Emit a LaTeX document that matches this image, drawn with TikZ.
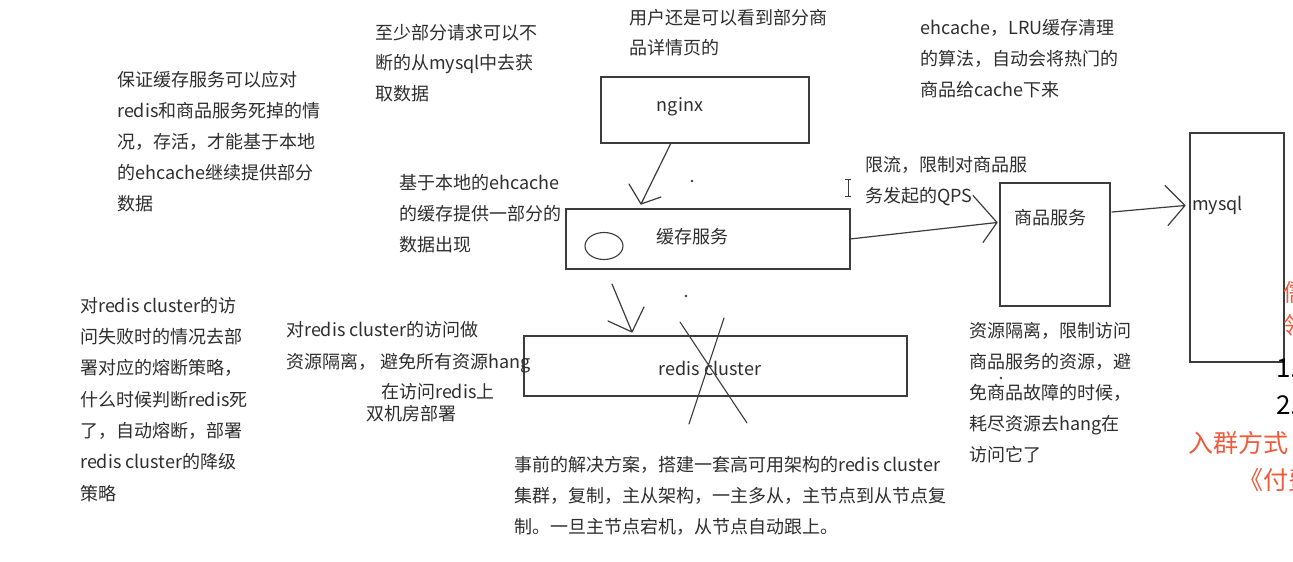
\documentclass[tikz,border=0pt]{standalone}
\usepackage{fontspec}
\setmainfont{Noto Sans CJK SC}
\usetikzlibrary{calc,shapes.geometric}
\definecolor{tx}{HTML}{2E2E2E}
\definecolor{ln}{HTML}{3C3C3C}
\definecolor{rd}{HTML}{EE5A3C}
\begin{document}
\begin{tikzpicture}[x=1pt,y=-1pt,
  box/.style={draw=ln,line width=1.3pt,inner sep=0pt,outer sep=0pt},
  note/.style={anchor=north west,inner sep=0pt,align=left,text=tx,font=\fontsize{18}{31}\selectfont},
  lbl/.style={inner sep=0pt,text=tx,font=\fontsize{18}{20}\selectfont},
  wire/.style={draw=ln,line width=1.2pt,line cap=round},
  redt/.style={anchor=west,inner sep=0pt,text=rd,font=\fontsize{24}{26}\selectfont},
  numt/.style={anchor=west,inner sep=0pt,text=black,font=\fontsize{26}{28}\selectfont}]
\useasboundingbox (0,0) rectangle (1293,562);
\clip (0,0) rectangle (1293,562);
\fill[white] (0,0) rectangle (1293,562);

% boxes
\node[box,minimum width=208pt,minimum height=66pt] (nginx) at (705,110) {};
\node[box,minimum width=284pt,minimum height=60pt] (cache) at (708,239) {};
\node[box,minimum width=383pt,minimum height=60pt] (redis) at (715.5,366) {};
\node[box,minimum width=110pt,minimum height=123pt] (goods) at (1055,244.5) {};
\node[box,minimum width=94pt,minimum height=229pt] (mysql) at (1237,247.5) {};
\node[draw=ln,line width=1.1pt,ellipse,minimum width=38pt,minimum height=27pt,inner sep=0pt] (ehc) at (604,246) {};

% box labels
\node[lbl] (tnginx) at (680,107) {nginx};
\node[lbl] (tcache) at (692,237) {缓存服务};
\node[lbl] (tredis) at (710,368) {redis cluster};
\node[lbl] (tgoods) at (1050,218) {商品服务};
\node[lbl,anchor=west] (tmysql) at (1192,205) {mysql};

% arrows
\coordinate (a1s) at ($(nginx.south west)+(70,0)$);
\coordinate (a1t) at ($(cache.north west)+(75,-5)$);
\draw[wire] (a1s) -- (a1t) (a1t) -- ++(-12,-20) (a1t) -- ++(20,-7);

\coordinate (a2s) at ($(cache.south west)+(46,15)$);
\coordinate (a2t) at ($(redis.north west)+(108,-4)$);
\draw[wire] (a2s) -- (a2t) (a2t) -- ++(-24,-11) (a2t) -- ++(12,-25);

\coordinate (a3t) at ($(goods.west)+(-3,-22)$);
\draw[wire] (cache.east) -- (a3t) (a3t) -- ++(-24,-27) (a3t) -- ++(-14,20);

\coordinate (a4s) at ($(goods.north east)+(2,29)$);
\coordinate (a4t) at ($(mysql.west)+(-5,-42)$);
\draw[wire] (a4s) -- (a4t) (a4t) -- ++(-20,-20) (a4t) -- ++(-17,20);

% cross over redis
\coordinate (x1a) at (680,322); \coordinate (x1b) at (747,423);
\coordinate (x2a) at (724,318); \coordinate (x2b) at (689,424);
\draw[wire,line width=1.1pt] (x1a) -- (x1b) (x2a) -- (x2b);

% cursor and dots
\draw[ln,line width=0.9pt] (848,179) -- (848,196) (845,179) -- (851,179) (845,196) -- (851,196);
\fill[ln] (692,181) circle (1.3) (686,296) circle (1.3) (1001,378) circle (1.3);

% notes
\node[note] (nA) at (117,71) {保证缓存服务可以应对\\redis和商品服务死掉的情\\况，存活，才能基于本地\\的ehcache继续提供部分\\数据};
\node[note,font=\fontsize{18}{30.5}\selectfont] (nB) at (375,24) {至少部分请求可以不\\断的从mysql中去获\\取数据};
\node[note,font=\fontsize{18}{30}\selectfont] (nC) at (629,9) {用户还是可以看到部分商\\品详情页的};
\node[note] (nD) at (920,19) {ehcache，LRU缓存清理\\的算法，自动会将热门的\\商品给cache下来};
\node[note] (nE) at (399,174) {基于本地的ehcache\\的缓存提供一部分的\\数据出现};
\node[note] (nF) at (865,156) {限流，限制对商品服\\务发起的QPS};
\node[note,font=\fontsize{18}{31.3}\selectfont] (nG) at (80,297) {对redis cluster的访\\问失败时的情况去部\\署对应的熔断策略，\\什么时候判断redis死\\了，自动熔断，部署\\redis cluster的降级\\策略};
\node[note,font=\fontsize{18}{32}\selectfont] (nH) at (286,321) {对redis cluster的访问做\\资源隔离， 避免所有资源hang};
\node[note] (nH2) at (381,383) {在访问redis上};
\node[note] (nH3) at (366,405) {双机房部署};
\node[note] (nI) at (969,322) {资源隔离，限制访问\\商品服务的资源，避\\免商品故障的时候，\\耗尽资源去hang在\\访问它了};
\node[note] (nJ) at (514,456) {事前的解决方案，搭建一套高可用架构的redis cluster\\集群，复制，主从架构，一主多从，主节点到从节点复\\制。一旦主节点宕机，从节点自动跟上。};

% right edge (cut off in the reference too)
\node[redt] (r1) at (1283,292) {儒};
\node[redt] (r2) at (1283,325) {领};
\node[numt] (n1) at (1276,368) {1.};
\node[numt] (n2) at (1276,405) {2.};
\node[redt,font=\fontsize{25}{27}\selectfont] (r3) at (1188,443) {入群方式};
\node[redt,font=\fontsize{25}{27}\selectfont] (r4) at (1238,480) {《付费};
\end{tikzpicture}
\end{document}
